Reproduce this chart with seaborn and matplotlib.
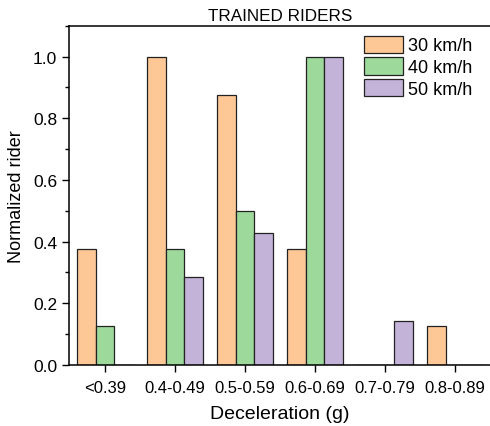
import matplotlib
matplotlib.use("Agg")
import matplotlib.pyplot as plt
from matplotlib.ticker import MultipleLocator
import seaborn as sns
import pandas as pd

categories = ["<0.39", "0.4-0.49", "0.5-0.59", "0.6-0.69", "0.7-0.79", "0.8-0.89"]
speeds = ["30 km/h", "40 km/h", "50 km/h"]
v30 = [0.375, 1.0, 0.875, 0.375, 0.0, 0.125]
v40 = [0.125, 0.375, 0.5, 1.0, 0.0, 0.0]
v50 = [0.0, 0.2857, 0.4286, 1.0, 0.1429, 0.0]
colors = ["#FDC896", "#9ED99C", "#C3B3D8"]

df = pd.DataFrame({
    "Deceleration": categories * 3,
    "speed": [speeds[0]] * 6 + [speeds[1]] * 6 + [speeds[2]] * 6,
    "value": v30 + v40 + v50,
})

sns.set_style("ticks")
plt.rcParams["font.family"] = ["Liberation Sans", "DejaVu Sans"]
plt.rcParams.update({
    "text.color": "black",
    "axes.labelcolor": "black",
    "xtick.color": "black",
    "ytick.color": "black",
    "axes.edgecolor": "black",
})

fig = plt.figure(figsize=(4.9, 4.27), dpi=100)
ax = fig.add_axes([69 / 490, 1 - 366 / 427, 422 / 490, (366 - 26.7) / 427])

sns.barplot(data=df, x="Deceleration", y="value", hue="speed", order=categories,
            hue_order=speeds, palette=colors, saturation=1, width=0.8,
            edgecolor="#222222", linewidth=0.9, errorbar=None, ax=ax)

ax.set_xlim(-0.514, 5.514)
ax.set_ylim(0, 1.1)
ax.yaxis.set_major_locator(MultipleLocator(0.2))
ax.yaxis.set_minor_locator(MultipleLocator(0.1))
ax.tick_params(axis="both", which="major", direction="out", length=5, width=1,
               labelsize=12)
ax.tick_params(axis="y", labelsize=12.5)
ax.tick_params(axis="y", which="minor", direction="out", length=3, width=1)
ax.tick_params(axis="x", pad=6)
for s in ax.spines.values():
    s.set_linewidth(1.1)

ax.set_xlabel("Deceleration (g)", fontsize=14, labelpad=7)
ax.set_ylabel("Normalized rider", fontsize=13, labelpad=6)
ax.set_title("TRAINED RIDERS", fontsize=12.3, pad=4)

ax.legend(loc="upper left", bbox_to_anchor=(293 / 422, 1 - 8 / 339.3), frameon=False,
          fontsize=13, handlelength=2.15, handleheight=1.12, labelspacing=0.15,
          handletextpad=0.3, borderpad=0.1, borderaxespad=0)

fig.savefig("out.png", dpi=100)
